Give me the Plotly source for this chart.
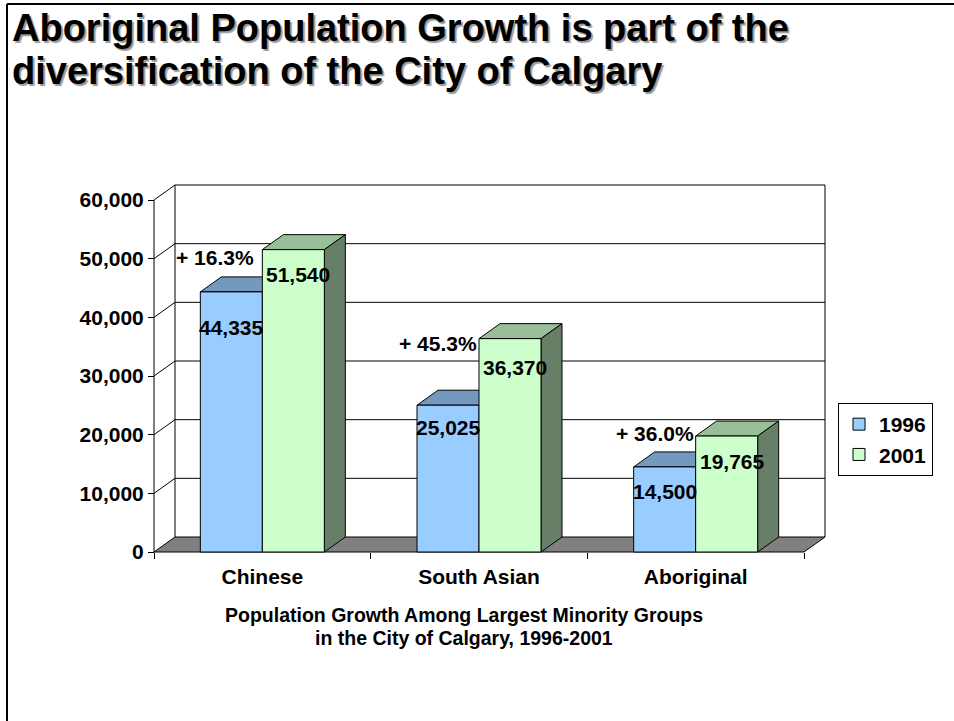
import plotly.graph_objects as go

# ---- data -------------------------------------------------------------
categories = ["Chinese", "South Asian", "Aboriginal"]
series_names = ["1996", "2001"]
pop_1996 = [44335, 25025, 14500]
pop_2001 = [51540, 36370, 19765]
growth_labels = ["+ 16.3%", "+ 45.3%", "+ 36.0%"]
y_ticks = [0, 10000, 20000, 30000, 40000, 50000, 60000]
caption_lines = ["Population Growth Among Largest Minority Groups",
                 "in the City of Calgary, 1996-2001"]
heading_lines = ["Aboriginal Population Growth is part of the",
                 "diversification of the City of Calgary"]

# ---- page / 3-D frame geometry (pixels) -------------------------------
W, H = 954, 721
FRONT_LEFT, FRONT_RIGHT = 154, 804   # front plane, category bounds
ZERO_PX, TOP_PX = 552, 200           # front plane, value 0 and axis max
DEPTH_X, DEPTH_Y = 21, 15            # oblique depth offset
PAD = 3
BAR_PX = 62

n = len(categories)
y_max = y_ticks[-1]
px_per_cat = (FRONT_RIGHT - FRONT_LEFT) / n
px_per_val = (ZERO_PX - TOP_PX) / y_max
dx = DEPTH_X / px_per_cat
dy = DEPTH_Y / px_per_val
bar_w = BAR_PX / px_per_cat

plot_l = FRONT_LEFT - PAD
plot_r = FRONT_RIGHT + DEPTH_X + PAD
plot_b = ZERO_PX + PAD
plot_t = TOP_PX - DEPTH_Y - PAD

x_range = [-0.5 - PAD / px_per_cat, n - 0.5 + (DEPTH_X + PAD) / px_per_cat]
y_range = [-PAD / px_per_val, y_max + (DEPTH_Y + PAD) / px_per_val]


def px_x(p):
    return (p - plot_l) / (plot_r - plot_l)


def px_y(p):
    return (plot_b - p) / (plot_b - plot_t)


FONT = "Liberation Sans, Arial, sans-serif"
BLUE, BLUE_TOP, BLUE_SIDE = "#99CCFF", "#7399BF", "#4D6680"
GREEN, GREEN_TOP, GREEN_SIDE = "#CCFFCC", "#99BF99", "#667F66"
FLOOR = "#808080"


def poly(points, fill, width=1):
    d = "M " + " L ".join(f"{x},{y}" for x, y in points) + " Z"
    return dict(type="path", path=d, xref="x", yref="y", layer="below",
                fillcolor=fill, line=dict(color="black", width=width))


def seg(x0, y0, x1, y1):
    return dict(type="line", x0=x0, y0=y0, x1=x1, y1=y1, xref="x", yref="y",
                layer="below", line=dict(color="black", width=1))


shapes = []
xl, xr = -0.5, n - 0.5
xb0, xb1 = xl + dx, xr + dx

# floor
shapes.append(poly([(xl, 0), (xr, 0), (xb1, dy), (xb0, dy)], FLOOR))
# back wall outline and gridlines
shapes.append(seg(xb0, dy, xb0, y_max + dy))
shapes.append(seg(xb1, dy, xb1, y_max + dy))
for t in y_ticks[1:]:
    shapes.append(seg(xb0, t + dy, xb1, t + dy))
# side wall
shapes.append(seg(xl, 0, xl, y_max))
for t in y_ticks[1:]:
    shapes.append(seg(xl, t, xb0, t + dy))

# bar tops and sides (front faces are the bar traces)
for i in range(n):
    for vals, off, top_c, side_c in ((pop_1996, -bar_w, BLUE_TOP, BLUE_SIDE),
                                     (pop_2001, 0.0, GREEN_TOP, GREEN_SIDE)):
        v = vals[i]
        x0 = i + off
        x1 = x0 + bar_w
        shapes.append(poly([(x0, v), (x1, v), (x1 + dx, v + dy), (x0 + dx, v + dy)], top_c))
        shapes.append(poly([(x1, 0), (x1, v), (x1 + dx, v + dy), (x1 + dx, dy)], side_c))

# page frame lines
shapes.append(dict(type="line", xref="paper", yref="paper",
                   x0=px_x(7), y0=px_y(4), x1=px_x(W), y1=px_y(4),
                   line=dict(color="black", width=2)))
shapes.append(dict(type="line", xref="paper", yref="paper",
                   x0=px_x(7), y0=px_y(4), x1=px_x(7), y1=px_y(H),
                   line=dict(color="black", width=2)))

fig = go.Figure()
fig.add_trace(go.Bar(x=list(range(n)), y=pop_1996, width=bar_w, offset=-bar_w,
                     name=series_names[0], marker=dict(color=BLUE, line=dict(color="black", width=1))))
fig.add_trace(go.Bar(x=list(range(n)), y=pop_2001, width=bar_w, offset=0,
                     name=series_names[1], marker=dict(color=GREEN, line=dict(color="black", width=1))))

# value labels
shift_1996 = [-36, -22, -25]
shift_2001 = [-25, -29, -25]
shift_growth = [-8, -5, 3]
xshift_growth = [-6, 0, 0]
annotations = []
lab_font = dict(family=FONT, size=21, color="black", weight="bold")
for i in range(n):
    annotations.append(dict(x=i - bar_w, y=pop_1996[i], text=f"{pop_1996[i]:,}", xref="x", yref="y",
                            xanchor="left", yanchor="middle", yshift=shift_1996[i], xshift=-3,
                            showarrow=False, font=lab_font))
    annotations.append(dict(x=i, y=pop_2001[i], text=f"{pop_2001[i]:,}", xref="x", yref="y",
                            xanchor="left", yanchor="middle", yshift=shift_2001[i], xshift=2,
                            showarrow=False, font=lab_font))
    annotations.append(dict(x=i, y=pop_2001[i], text=growth_labels[i], xref="x", yref="y",
                            xanchor="right", yanchor="middle", yshift=shift_growth[i],
                            xshift=xshift_growth[i], showarrow=False, font=lab_font))

# axis caption
cap_font = dict(family=FONT, size=19.5, color="black", weight="bold")
for line, ypx in zip(caption_lines, (615, 638)):
    annotations.append(dict(x=px_x(464), y=px_y(ypx), xref="paper", yref="paper",
                            text=line, showarrow=False, xanchor="center", yanchor="middle",
                            font=cap_font))

# slide heading
head_font = dict(family=FONT, size=38, color="black", weight="bold", shadow="2px 2px 1px #9a9a9a")
for line, ypx in zip(heading_lines, (28, 71)):
    annotations.append(dict(x=px_x(10), y=px_y(ypx), xref="paper", yref="paper",
                            text=line, showarrow=False, xanchor="left", yanchor="middle",
                            font=head_font))

fig.update_layout(
    width=W, height=H, autosize=False,
    margin=dict(l=plot_l, r=W - plot_r, t=plot_t, b=H - plot_b),
    paper_bgcolor="white", plot_bgcolor="rgba(0,0,0,0)",
    barmode="overlay",
    shapes=shapes, annotations=annotations,
    xaxis=dict(range=x_range, tickvals=list(range(n)), ticktext=categories, ticks="",
               showgrid=False, zeroline=False, showline=False,
               anchor="free", position=px_y(ZERO_PX), ticklabelstandoff=10,
               tickfont=dict(family=FONT, size=21, color="black", weight="bold"),
               minor=dict(tickvals=[i - 0.5 for i in range(n + 1)], ticks="outside",
                          ticklen=6, tickcolor="black", tickwidth=1, showgrid=False)),
    yaxis=dict(range=y_range, tickvals=y_ticks, tickformat=",", ticks="outside",
               ticklen=6, tickcolor="black", tickwidth=1,
               showgrid=False, zeroline=False, showline=False,
               anchor="free", position=px_x(FRONT_LEFT),
               tickfont=dict(family=FONT, size=21, color="black", weight="bold")),
    legend=dict(x=px_x(838), y=px_y(403), xanchor="left", yanchor="top",
                bordercolor="black", borderwidth=1, bgcolor="white",
                font=dict(family=FONT, size=21, color="black", weight="bold"),
                itemwidth=30, tracegroupgap=0),
    showlegend=True,
)

fig.write_html("out.html")
